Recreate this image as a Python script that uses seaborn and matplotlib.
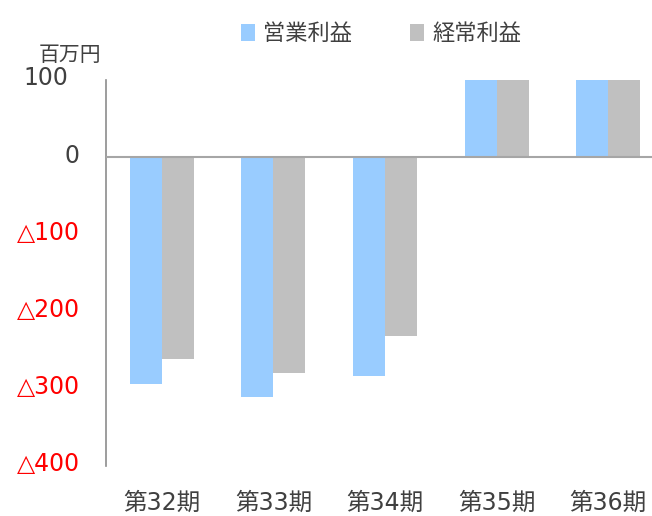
import matplotlib
matplotlib.use("Agg")
import matplotlib.pyplot as plt
import matplotlib.transforms as mtransforms
import seaborn as sns
import pandas as pd

periods = ["第32期", "第33期", "第34期", "第35期", "第36期"]
series_names = ["営業利益", "経常利益"]
operating = [-294, -310, -283, 120, 120]
ordinary = [-261, -280, -232, 120, 120]
y_ticks = [100, 0, -100, -200, -300, -400]
y_labels = ["100", "0", "△100", "△200", "△300", "△400"]
unit_label = "百万円"

sns.set_theme(style="white")
plt.rcParams["font.family"] = ["DejaVu Sans", "Noto Sans CJK JP"]

df = pd.DataFrame({
    "period": periods * 2,
    "type": [series_names[0]] * len(periods) + [series_names[1]] * len(periods),
    "value": operating + ordinary,
})

fig = plt.figure(figsize=(6.52, 5.16), dpi=100)
W, H = 652, 516
ax = fig.add_axes([106 / W, 1 - 466 / H, (664 - 106) / W, (466 - 80) / H])

sns.barplot(data=df, x="period", y="value", hue="type", order=periods,
            hue_order=series_names, palette=["#99CCFF", "#C0C0C0"],
            saturation=1, width=0.575, errorbar=None, linewidth=0, ax=ax)

ax.set_ylim(-400, 100)
ax.set_xlim(-0.5, 4.5)
ax.set_xlabel("")
ax.set_ylabel("")
ax.axhline(0, color="#A6A6A6", lw=1.5, zorder=3)

for s in ["top", "right", "bottom"]:
    ax.spines[s].set_visible(False)
ax.spines["left"].set_color("#8C8C8C")
ax.spines["left"].set_linewidth(1.2)

ax.set_yticks(y_ticks)
ax.set_yticklabels(y_labels)
ax.tick_params(axis="y", length=0, pad=19, labelsize=17)
ax.tick_params(axis="x", length=0, pad=18, labelsize=17, labelcolor="#404040")
for lab, v in zip(ax.get_yticklabels(), y_ticks):
    lab.set_color("red" if v < 0 else "#404040")
    dx = -8 / 72 if v == 100 else 0
    lab.set_transform(lab.get_transform() +
                      mtransforms.ScaledTranslation(dx, 3 / 72, fig.dpi_scale_trans))

fig.text(101 / W, 1 - 55 / H, unit_label, ha="right", va="center",
         fontsize=15, color="#404040")

leg = ax.legend(loc="center", bbox_to_anchor=(381 / W, 1 - 34 / H),
                bbox_transform=fig.transFigure, ncol=2, frameon=False,
                fontsize=16, handlelength=0.65, handleheight=0.75,
                handletextpad=0.35, columnspacing=2.6)
for t in leg.get_texts():
    t.set_color("#404040")

fig.savefig("out.png", dpi=100)
